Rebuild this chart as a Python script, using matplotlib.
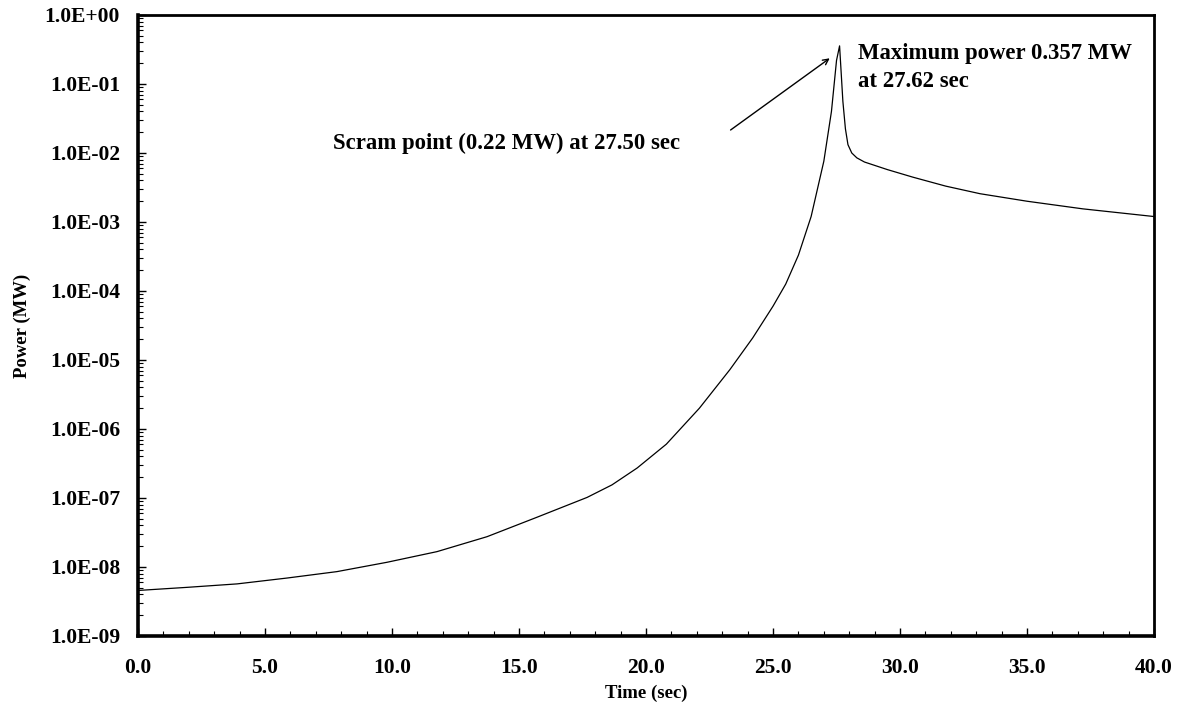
import matplotlib
matplotlib.use('Agg')
import matplotlib.pyplot as plt
from matplotlib.ticker import FixedLocator, MultipleLocator, FuncFormatter, LogLocator, NullFormatter

# values
time = [0.0, 1.93, 3.9, 5.87, 7.83, 9.8, 11.77, 13.74, 15.7, 17.68, 18.66, 19.65,
        20.8, 22.1, 23.3, 24.2, 25.0, 25.5, 26.0, 26.5, 27.0, 27.3, 27.5, 27.62,
        27.75, 27.85, 27.95, 28.1, 28.3, 28.6, 29.5, 30.5, 31.8, 33.15, 35.0,
        37.2, 40.0]
power = [4.57e-9, 5.07e-9, 5.69e-9, 6.92e-9, 8.57e-9, 1.17e-8, 1.67e-8, 2.75e-8,
         5.25e-8, 1.02e-7, 1.55e-7, 2.72e-7, 6.03e-7, 2.0e-6, 7.24e-6, 2.09e-5,
         6.03e-5, 1.26e-4, 3.31e-4, 1.2e-3, 7.6e-3, 0.040, 0.22, 0.357, 0.056,
         0.0224, 0.0132, 0.010, 0.0085, 0.0074, 0.00575, 0.00447, 0.00331,
         0.00257, 0.0020, 0.00155, 0.0012]

x_ticks = [0, 5, 10, 15, 20, 25, 30, 35, 40]
y_ticks = [1e-9, 1e-8, 1e-7, 1e-6, 1e-5, 1e-4, 1e-3, 1e-2, 1e-1, 1e0]

scram_t, scram_p = 27.50, 0.22
max_t, max_p = 27.62, 0.357

plt.rcParams['font.family'] = ['Liberation Serif', 'DejaVu Serif']
plt.rcParams['font.weight'] = 'bold'

fig = plt.figure(figsize=(11.83, 7.21), dpi=100)
ax = fig.add_axes([0.1167, 0.1179, 0.8588, 0.8613])

ax.plot(time, power, color='black', lw=0.9)
ax.set_yscale('log')
ax.set_xlim(0, 40)
ax.set_ylim(1e-9, 1)

ax.xaxis.set_major_locator(FixedLocator(x_ticks))
ax.xaxis.set_minor_locator(MultipleLocator(1))
ax.xaxis.set_major_formatter(FuncFormatter(lambda v, p: '%.1f' % v))
ax.yaxis.set_major_locator(FixedLocator(y_ticks))
ax.yaxis.set_minor_locator(LogLocator(base=10, subs=range(2, 10), numticks=20))
ax.yaxis.set_minor_formatter(NullFormatter())
ax.yaxis.set_major_formatter(FuncFormatter(lambda v, p: '%.1E' % v))

ax.tick_params(which='both', direction='in', top=False, right=False)
ax.tick_params(which='major', length=6, width=1, labelsize=15.5)
ax.tick_params(axis='y', which='major', pad=13)
ax.tick_params(axis='x', which='major', pad=16)
ax.tick_params(which='minor', length=3.5, width=0.8)
for lab in ax.get_xticklabels() + ax.get_yticklabels():
    lab.set_fontweight('bold')
ax.spines['left'].set_linewidth(2.6)
ax.spines['bottom'].set_linewidth(2.6)
ax.spines['top'].set_linewidth(2)
ax.spines['right'].set_linewidth(2)

ax.set_xlabel('Time (sec)', fontsize=13.5, fontweight='bold', labelpad=5)
ax.set_ylabel('Power (MW)', fontsize=13.5, fontweight='bold', labelpad=10)

ax.annotate('', xy=(27.32, 0.249), xytext=(23.24, 0.0204),
            arrowprops=dict(arrowstyle='->', lw=1, color='black'))
ax.text(7.68, 0.01396, 'Scram point (%.2f MW) at %.2f sec' % (scram_p, scram_t),
        fontsize=16.4, fontweight='bold', va='center', ha='left')
ax.text(28.35, 0.39, 'Maximum power %.3f MW\nat %.2f sec' % (max_p, max_t),
        fontsize=16.4, fontweight='bold', va='top', ha='left', linespacing=1.4)

fig.savefig('out.png', dpi=100)
